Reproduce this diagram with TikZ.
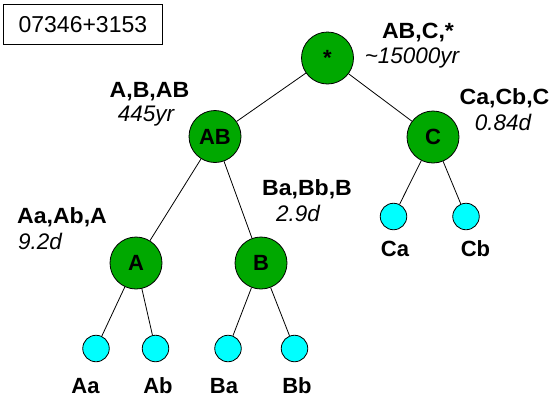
\documentclass[tikz,border=0pt]{standalone}
\usepackage{fontspec}
\setmainfont{Liberation Sans}
\newfontfamily\lblfont[FakeStretch=1.05]{Liberation Sans}
\definecolor{grn}{RGB}{0,168,0}
\definecolor{cyn}{RGB}{0,255,255}
\tikzset{
  big/.style={circle, draw=black, fill=grn, minimum size=52pt, inner sep=0pt, line width=0.8pt,
    font=\fontsize{22}{22}\selectfont\bfseries},
  leaf/.style={circle, draw=black, fill=cyn, minimum size=26.5pt, inner sep=0pt, line width=0.8pt},
  conn/.style={line width=0.8pt},
  lbl/.style={anchor=base, inner sep=0pt, font=\lblfont\fontsize{22}{22}\selectfont\bfseries},
  per/.style={anchor=base, inner sep=0pt, font=\fontsize{22.5}{22.5}\selectfont\itshape},
  leaflbl/.style={anchor=base, inner sep=0pt, font=\fontsize{22}{22}\selectfont\bfseries},
  titlebox/.style={draw=black, line width=0.8pt, minimum width=159pt, minimum height=40pt,
    inner sep=0pt, anchor=north west, font=\fontsize{23}{23}\selectfont}
}
\begin{document}
\begin{tikzpicture}[x=1pt, y=-1pt]
\useasboundingbox (0,0) rectangle (559,399);
\node[titlebox] (title) at (3,4) {07346+3153};
% main nodes
\node[big] (star) at (327.5,58) {*};
\node[big] (AB) at (215,136.5) {AB};
\node[big] (C) at (433,137) {C};
\node[big] (A) at (136,263) {A};
\node[big] (B) at (261,263) {B};
% leaves
\node[leaf] (Ca) at (393.5,216.5) {};
\node[leaf] (Cb) at (466,216.5) {};
\node[leaf] (Aa) at (96,348.5) {};
\node[leaf] (Ab) at (155.5,348.5) {};
\node[leaf] (Ba) at (228,348.5) {};
\node[leaf] (Bb) at (294.5,348.5) {};
% connectors
\draw[conn] (star) -- (AB);
\draw[conn] (star) -- (C);
\draw[conn] (AB) -- (A);
\draw[conn] (AB) -- (B);
\draw[conn] (C) -- (Ca);
\draw[conn] (C) -- (Cb);
\draw[conn] (A) -- (Aa);
\draw[conn] (A) -- (Ab);
\draw[conn] (B) -- (Ba);
\draw[conn] (B) -- (Bb);
% labels
\node[lbl] (l1) at (418,38) {AB,C,*};
\node[per] (p1) at (412,63) {\textasciitilde15000yr};
\node[lbl] (l2) at (149.5,97) {A,B,AB};
\node[per] (p2) at (146,121) {445yr};
\node[lbl] (l3) at (504.5,104) {Ca,Cb,C};
\node[per] (p3) at (503,130) {0.84d};
\node[lbl] (l4) at (307,195) {Ba,Bb,B};
\node[per] (p4) at (298,221) {2.9d};
\node[lbl] (l5) at (62,223) {Aa,Ab,A};
\node[per] (p5) at (40,249) {9.2d};
% leaf labels
\node[leaflbl] (tCa) at (395,256) {Ca};
\node[leaflbl] (tCb) at (475.5,256) {Cb};
\node[leaflbl] (tAa) at (85.5,393) {Aa};
\node[leaflbl] (tAb) at (158,393) {Ab};
\node[leaflbl] (tBa) at (224,393) {Ba};
\node[leaflbl] (tBb) at (297,393) {Bb};
\end{tikzpicture}
\end{document}
